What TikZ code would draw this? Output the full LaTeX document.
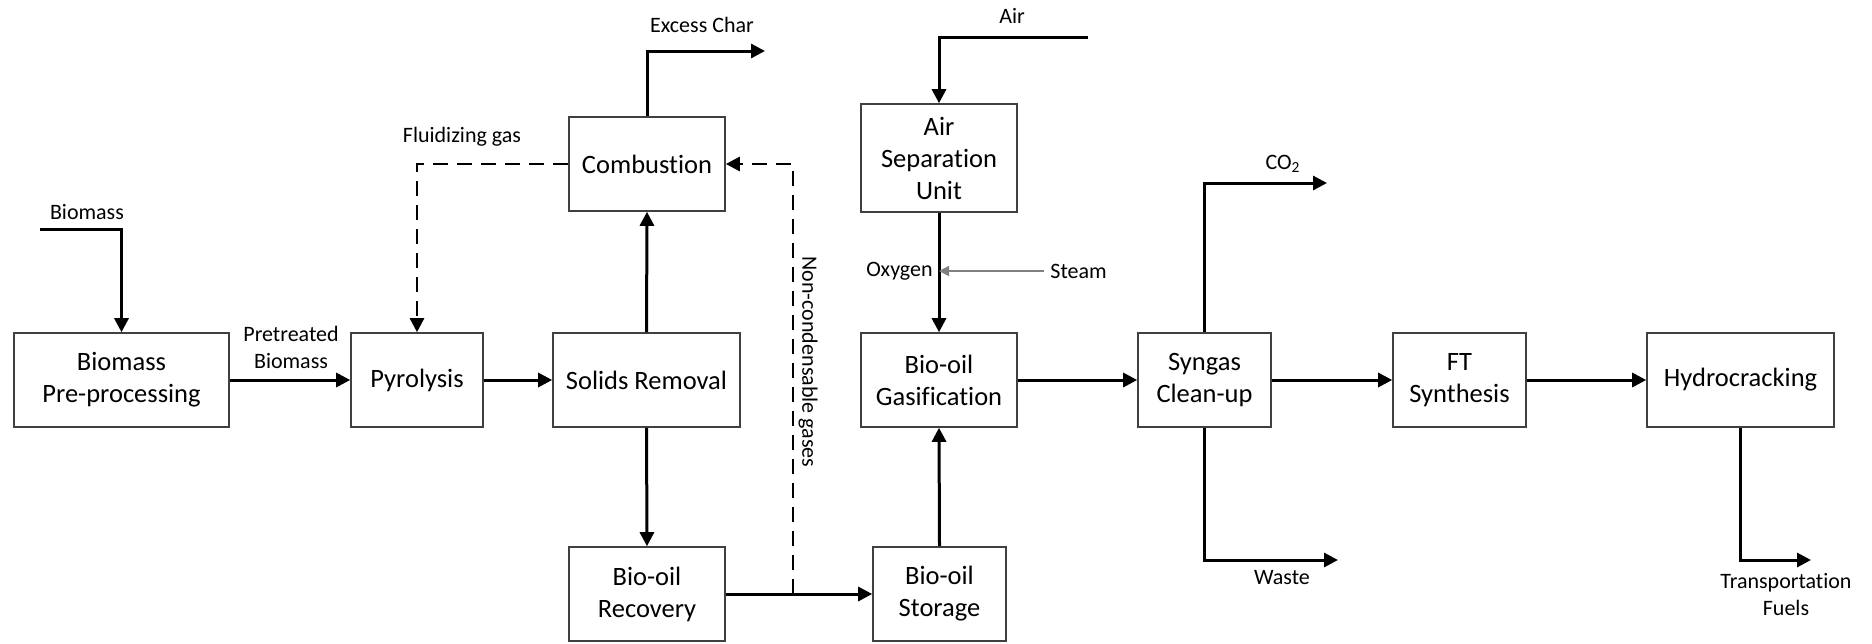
\documentclass[tikz,border=0pt]{standalone}
\usepackage{fontspec}
\setmainfont{Carlito}[Ligatures=NoCommon]
\usetikzlibrary{arrows.meta}
\begin{document}
\begin{tikzpicture}[x=0.5pt,y=-0.5pt,
  box/.style={draw=black!75,line width=0.8pt,fill=white,align=center,inner sep=0pt,
    font=\fontsize{13.25}{16}\selectfont,minimum height=47pt},
  lab/.style={align=center,inner sep=0pt,font=\fontsize{11}{13.5}\selectfont},
  arr/.style={line width=1.5pt,-{Triangle[length=7pt,width=7pt]}},
  darr/.style={line width=1.35pt,dash pattern=on 7.5pt off 4.5pt,-{Triangle[length=7pt,width=7pt]}},
  thinarr/.style={line width=0.75pt,draw=black!50,-{Triangle[length=5pt,width=5pt]}}]
\useasboundingbox (0,0) rectangle (1872,643);
% boxes
\node[box,minimum width=107.5pt] (pre) at (121.5,380) {Biomass\\Pre-processing};
\node[box,minimum width=66pt] (pyr) at (417,380) {Pyrolysis};
\node[box,minimum width=93.5pt] (sol) at (646.5,380) {Solids Removal};
\node[box,minimum width=78pt] (com) at (647,164) {Combustion};
\node[box,minimum width=78pt] (rec) at (647,594) {Bio-oil\\Recovery};
\node[box,minimum width=78pt,minimum height=54pt] (asu) at (939,158) {Air\\Separation\\Unit};
\node[box,minimum width=78pt] (gas) at (939,380) {Bio-oil\\Gasification};
\node[box,minimum width=66.5pt] (sto) at (939.5,594) {Bio-oil\\Storage};
\node[box,minimum width=66.5pt] (syn) at (1204.5,380) {Syngas\\Clean-up};
\node[box,minimum width=66.5pt] (ft) at (1459.5,380) {FT\\Synthesis};
\node[box,minimum width=93.5pt] (hyd) at (1740.5,380) {Hydrocracking};
% free ends
\coordinate (bioin) at (40,229);
\coordinate (exc) at (765,51);
\coordinate (nc) at (793,594);
\coordinate (airin) at (1088,37);
\coordinate (steamin) at (1044,271);
\coordinate (co2) at (1327,183);
\coordinate (waste) at (1338,560);
\coordinate (tf) at (1811,560);
% labels
\node[lab] (lbio) at (87,212) {Biomass};
\node[lab] (lpre) at (291,347) {Pretreated\\Biomass};
\node[lab] (lexc) at (702,25) {Excess Char};
\node[lab] (lflu) at (462,137) {Fluidizing gas};
\node[lab,rotate=-90] (lnc) at (808,362) {Non-condensable gases};
\node[lab] (lair) at (1012,16) {Air};
\node[lab,anchor=east] (loxy) at (933,271) {Oxygen};
\node[lab,anchor=west] (lste) at (1050,271) {Steam};
\node[lab] (lco2) at (1283,164) {CO\textsubscript{2}};
\node[lab] (lwas) at (1282,578) {Waste};
\node[lab] (ltf) at (1786,595) {Transportation\\Fuels};
% connectors
\draw[arr] (bioin) -| (pre.north);
\draw[arr] (pre) -- (pyr);
\draw[arr] (pyr) -- (sol);
\draw[arr] (sol.north) -- (com.south);
\draw[arr] (sol.south) -- (rec.north);
\draw[arr] (com.north) |- (exc);
\draw[darr] (com.west) -| (pyr.north);
\draw[darr] (nc) |- (com.east);
\draw[arr] (rec) -- (sto);
\draw[arr] (sto.north) -- (gas.south);
\draw[arr] (airin) -| (asu.north);
\draw[arr] (asu.south) -- (gas.north);
\draw[thinarr] (steamin) -- (steamin -| asu.south);
\draw[arr] (gas) -- (syn);
\draw[arr] (syn) -- (ft);
\draw[arr] (ft) -- (hyd);
\draw[arr] (syn.north) |- (co2);
\draw[arr] (syn.south) |- (waste);
\draw[arr] (hyd.south) |- (tf);
\end{tikzpicture}
\end{document}
